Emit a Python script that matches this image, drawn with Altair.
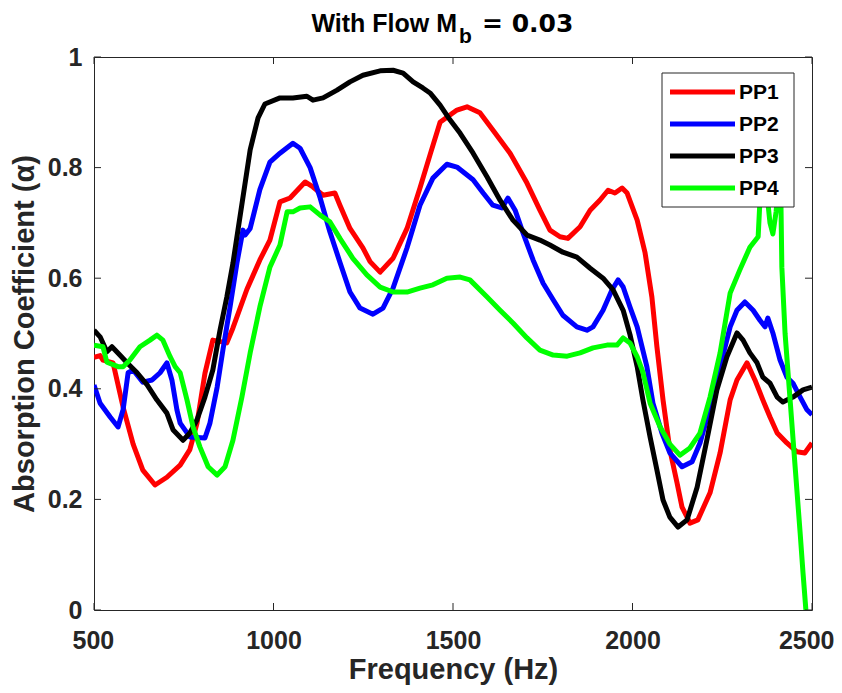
import altair as alt
import pandas as pd

# ---------------- data ----------------
series_names = ["PP1", "PP2", "PP3", "PP4"]
series_colors = ["#ff0000", "#0000ff", "#000000", "#00ff00"]

pp1_freq = [500, 517, 525, 553, 581, 609, 636, 670, 703, 740, 767, 787, 809, 831, 870,
            887, 926, 962, 990, 1018, 1046, 1088, 1110, 1138, 1171, 1185, 1213, 1249, 1269, 1297,
            1333, 1372, 1408, 1436, 1464, 1483, 1511, 1539, 1575, 1611, 1659, 1706, 1742, 1770, 1798,
            1820, 1854, 1882, 1909, 1932, 1951, 1971, 1985, 2013, 2035, 2054, 2068, 2085, 2104, 2124,
            2138, 2152, 2160, 2182, 2216, 2244, 2272, 2291, 2319, 2341, 2363, 2383, 2403, 2430, 2458,
            2480, 2500]
pp1_alpha = [.457, .46, .452, .447, .367, .30, .253, .226, .24, .262, .29, .338, .428, .488, .483,
             .51, .58, .633, .669, .738, .745, .774, .765, .75, .754, .732, .69, .655, .63, .611,
             .636, .69, .763, .823, .882, .891, .904, .91, .899, .868, .826, .772, .723, .687, .675,
             .672, .693, .723, .741, .759, .754, .763, .754, .705, .646, .566, .476, .38, .29, .23,
             .186, .168, .157, .163, .212, .284, .38, .416, .447, .416, .38, .349, .32, .302, .286,
             .284, .302]

pp2_freq = [500, 517, 545, 567, 581, 595, 609, 636, 662, 684, 703, 717, 731, 740, 767,
            809, 823, 843, 859, 879, 898, 915, 921, 935, 962, 990, 1018, 1054, 1074, 1102,
            1130, 1157, 1185, 1213, 1241, 1277, 1305, 1333, 1372, 1408, 1444, 1483, 1511, 1556, 1584,
            1611, 1636, 1653, 1673, 1695, 1723, 1751, 1779, 1806, 1845, 1873, 1890, 1918, 1943, 1960,
            1974, 1993, 2013, 2040, 2057, 2082, 2104, 2138, 2166, 2188, 2216, 2244, 2272, 2291, 2313,
            2336, 2355, 2369, 2377, 2391, 2411, 2430, 2447, 2467, 2486, 2500]
pp2_alpha = [.407, .374, .349, .331, .362, .429, .434, .412, .416, .429, .447, .416, .362, .338, .313,
             .311, .338, .403, .47, .548, .627, .687, .678, .69, .76, .81, .826, .844, .835, .8,
             .745, .684, .629, .575, .546, .535, .546, .582, .655, .732, .781, .806, .801, .778, .754,
             .732, .727, .745, .723, .682, .633, .591, .561, .533, .512, .506, .512, .542, .579, .597,
             .584, .548, .512, .44, .374, .32, .284, .259, .268, .302, .367, .44, .512, .542, .557,
             .542, .524, .512, .528, .501, .452, .421, .41, .385, .362, .353]

pp3_freq = [500, 517, 536, 550, 572, 592, 620, 648, 675, 703, 720, 748, 767, 787, 809,
            831, 851, 870, 887, 901, 935, 957, 976, 1018, 1054, 1093, 1110, 1138, 1177, 1213, 1249,
            1297, 1333, 1361, 1389, 1416, 1436, 1464, 1492, 1520, 1556, 1595, 1631, 1667, 1706, 1742,
            1770, 1806, 1845, 1882, 1918, 1946, 1974, 1993, 2013, 2029, 2049, 2068, 2085, 2104, 2127,
            2152, 2180, 2207, 2235, 2263, 2291, 2308, 2327, 2347, 2363, 2383, 2403, 2419, 2447, 2475,
            2500]
pp3_alpha = [.506, .494, .467, .476, .461, .447, .429, .407, .38, .356, .326, .307, .32, .344, .385,
             .434, .506, .566, .627, .687, .832, .89, .915, .926, .926, .929, .922, .926, .94, .955, .967,
             .975, .976, .971, .955, .944, .935, .913, .886, .862, .826, .783, .741, .705, .678, .669,
             .66, .647, .638, .618, .6, .579, .542, .498, .44, .38, .313, .253, .199, .168, .15,
             .163, .222, .307, .398, .458, .501, .488, .465, .447, .421, .41, .385, .376, .385, .398,
             .403]

pp4_freq = [500, 525, 536, 567, 581, 600, 628, 656, 675, 692, 712, 726, 740, 759, 776,
            795, 818, 843, 865, 887, 912, 935, 962, 990, 1018, 1038, 1054, 1074, 1102, 1130,
            1157, 1185, 1221, 1260, 1297, 1333, 1372, 1408, 1444, 1483, 1520, 1547, 1595, 1631, 1667,
            1706, 1742, 1779, 1818, 1854, 1890, 1929, 1957, 1974, 1993, 2013, 2029, 2049, 2077, 2104,
            2132, 2160, 2188, 2216, 2244, 2272, 2299, 2327, 2350, 2355, 2361, 2369, 2375, 2383, 2391,
            2400, 2408, 2413, 2416, 2425, 2439, 2453, 2467, 2475, 2483]
pp4_alpha = [.479, .476, .448, .44, .44, .452, .476, .488, .497, .488, .458, .44, .429, .38, .331,
             .295, .259, .244, .259, .307, .385, .465, .548, .62, .66, .72, .72, .727, .729, .714,
             .702, .672, .636, .606, .584, .575, .575, .582, .588, .6, .602, .597, .566, .542, .519,
             .492, .47, .461, .459, .465, .474, .479, .479, .492, .483, .458, .43, .374, .331, .30,
             .28, .293, .32, .385, .465, .573, .615, .656, .675, .74, .77, .77, .75, .70, .68,
             .72, .78, .76, .62, .50, .38, .259, .139, .067, 0.0]

x_ticks = [500, 1000, 1500, 2000, 2500]
y_ticks = [0, 0.2, 0.4, 0.6, 0.8, 1]

title_main = "With Flow M"
title_sub = "b"
title_rest = "= 0.03"
x_title = "Frequency (Hz)"
y_title = "Absorption Coefficient (α)"

# ---------------- build table ----------------
rows = []
for name, fs, vs in zip(series_names,
                        [pp1_freq, pp2_freq, pp3_freq, pp4_freq],
                        [pp1_alpha, pp2_alpha, pp3_alpha, pp4_alpha]):
    for i, (f, v) in enumerate(zip(fs, vs)):
        rows.append({"series": name, "freq": f, "alpha": v, "idx": i})
df = pd.DataFrame(rows)

W, H = 718, 553
FONT = "Liberation Sans"
AX = "#262626"

xscale = alt.Scale(domain=[500, 2500], nice=False, zero=False)
yscale = alt.Scale(domain=[0, 1], nice=False, zero=False)

x_axis = alt.Axis(values=x_ticks, format="d", labelFont=FONT, labelFontSize=25,
                  labelFontWeight="bold", labelColor=AX, labelPadding=18,
                  labelFlush=True, labelFlushOffset=22, labelOverlap=False, labelBound=False,
                  domain=False, ticks=False, grid=False,
                  title=x_title, titleFont=FONT, titleFontSize=29,
                  titleFontWeight="bold", titleColor=AX, titleX=W / 2, titleY=68,
                  titleAlign="center", titleBaseline="alphabetic")
y_axis = alt.Axis(values=y_ticks, format="~g", labelFont=FONT, labelFontSize=25,
                  labelFontWeight="bold", labelColor=AX, labelPadding=12,
                  labelFlush=False, labelOverlap=False, labelBound=False,
                  domain=False, ticks=False, grid=False,
                  title=y_title, titleFont=FONT, titleFontSize=29,
                  titleFontWeight="bold", titleColor=AX, titleX=-61, titleY=H / 2,
                  titleAngle=270, titleAlign="center", titleBaseline="alphabetic")

lines = alt.Chart(df).mark_line(strokeWidth=5, clip=True, strokeJoin="round").encode(
    x=alt.X("freq:Q", scale=xscale, axis=x_axis),
    y=alt.Y("alpha:Q", scale=yscale, axis=y_axis),
    color=alt.Color("series:N", scale=alt.Scale(domain=series_names, range=series_colors),
                    legend=None),
    order=alt.Order("idx:Q"),
)

xt_df = pd.DataFrame({"freq": x_ticks})
yt_df = pd.DataFrame({"alpha": y_ticks})
TL = 7
xt_bottom = alt.Chart(xt_df).mark_rule(color=AX, strokeWidth=1).encode(
    x=alt.X("freq:Q", scale=xscale, axis=x_axis), y=alt.value(H), y2=alt.value(H - TL))
xt_top = alt.Chart(xt_df).mark_rule(color=AX, strokeWidth=1).encode(
    x=alt.X("freq:Q", scale=xscale, axis=x_axis), y=alt.value(0), y2=alt.value(TL))
yt_left = alt.Chart(yt_df).mark_rule(color=AX, strokeWidth=1).encode(
    y=alt.Y("alpha:Q", scale=yscale, axis=y_axis), x=alt.value(0), x2=alt.value(TL))
yt_right = alt.Chart(yt_df).mark_rule(color=AX, strokeWidth=1).encode(
    y=alt.Y("alpha:Q", scale=yscale, axis=y_axis), x=alt.value(W - TL), x2=alt.value(W))

one = pd.DataFrame({"k": [0]})

# legend (manual, MATLAB style box)
LX0, LX1, LY0, LY1 = 568, 700, 16, 150
legend_layers = [
    alt.Chart(one).mark_rect(fill="white", stroke=AX, strokeWidth=1).encode(
        x=alt.value(LX0), x2=alt.value(LX1), y=alt.value(LY0), y2=alt.value(LY1))
]
for i, (name, col) in enumerate(zip(series_names, series_colors)):
    yy = 35 + i * 32
    legend_layers.append(
        alt.Chart(one).mark_rule(color=col, strokeWidth=5).encode(
            x=alt.value(576), x2=alt.value(641), y=alt.value(yy)))
    legend_layers.append(
        alt.Chart(one).mark_text(text=name, font=FONT, fontSize=21, fontWeight="bold",
                                 color="#000000", align="left", baseline="middle").encode(
            x=alt.value(645), y=alt.value(yy + 1)))

# title with subscript
title_layers = [
    alt.Chart(one).mark_text(text=title_main, font=FONT, fontSize=25, fontWeight="bold",
                             color="#000000", align="right", baseline="alphabetic").encode(
        x=alt.value(363), y=alt.value(-25)),
    alt.Chart(one).mark_text(text=title_sub, font=FONT, fontSize=21, fontWeight="bold",
                             color="#000000", align="left", baseline="alphabetic").encode(
        x=alt.value(365), y=alt.value(-14)),
    alt.Chart(one).mark_text(text=title_rest, font="DejaVu Sans", fontSize=25, fontWeight="bold",
                             color="#000000", align="left", baseline="alphabetic").encode(
        x=alt.value(388), y=alt.value(-25)),
]

chart = alt.layer(lines, xt_bottom, xt_top, yt_left, yt_right,
                  *legend_layers, *title_layers).properties(
    width=W, height=H,
    autosize=alt.AutoSizeParams(type="none"),
    padding={"left": 86, "top": 49, "right": 22, "bottom": 75},
    background="white",
).configure_view(stroke=AX, strokeWidth=1)

chart.save("out.html", embed_options={"renderer": "svg", "actions": False})
